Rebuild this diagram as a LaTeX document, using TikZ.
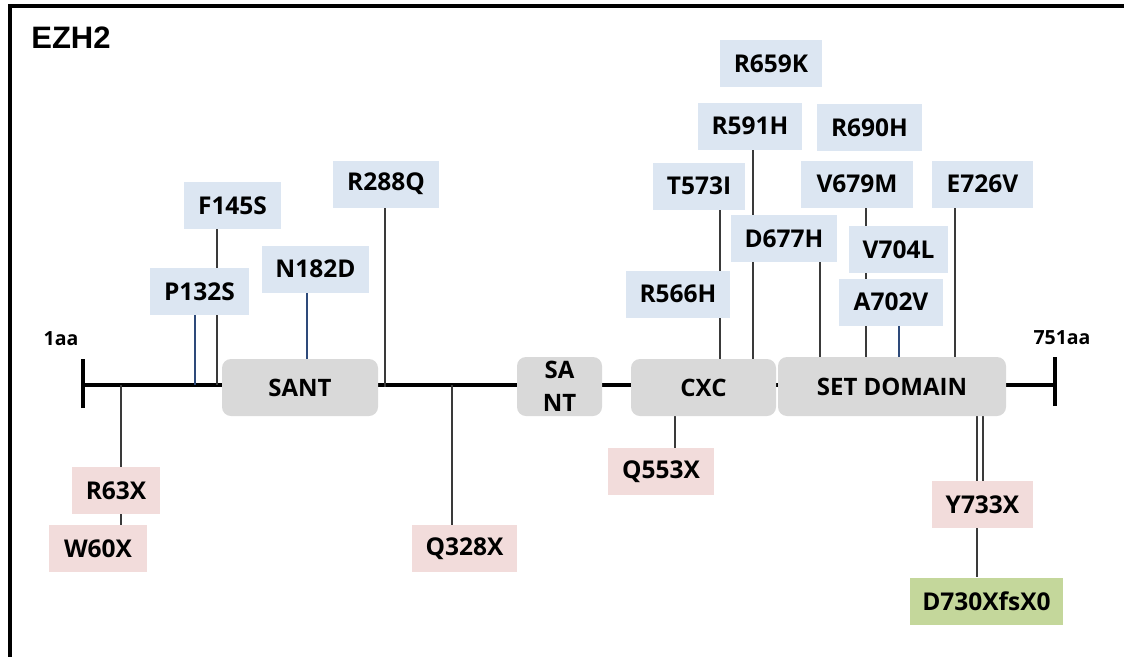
\documentclass[tikz,border=0pt]{standalone}
\usepackage{fontspec}
\setmainfont{Open Sans}
\newfontfamily\titlefont{Liberation Sans}
\pgfdeclarelayer{bg}
\pgfsetlayers{bg,main}
\definecolor{mutblue}{HTML}{DCE6F2}
\definecolor{mutpink}{HTML}{F2DCDB}
\definecolor{mutgreen}{HTML}{C4D79B}
\definecolor{domgray}{HTML}{D9D9D9}
\definecolor{stemgray}{HTML}{3A3A3A}
\definecolor{stemblue}{HTML}{2E4A7A}
\tikzset{
  mut/.style={fill=mutblue, inner sep=0pt, minimum height=47pt, font=\fontsize{24.5}{28}\selectfont\bfseries},
  nonsense/.style={mut, fill=mutpink},
  frameshift/.style={mut, fill=mutgreen},
  dombox/.style={fill=domgray, rounded corners=9pt, inner sep=0pt, minimum height=57pt, align=center, font=\fontsize{24}{33}\selectfont\bfseries},
  stem/.style={draw=stemgray, line width=1.1pt},
  bluestem/.style={draw=stemblue, line width=1.1pt},
  backbone/.style={draw=black, line width=4pt},
  endlabel/.style={inner sep=0pt, font=\fontsize{19.5}{22}\selectfont\bfseries},
}
\begin{document}
\begin{tikzpicture}[x=1pt,y=-1pt]
\useasboundingbox (0,0) rectangle (1124,656);
% frame
\draw[line width=3.5pt] (10,660) -- (10,6) -- (1130,6);
\node[inner sep=0pt, font=\titlefont\fontsize{31}{34}\selectfont\bfseries] (title) at (71,38) {EZH2};
\node[endlabel] (start) at (61,339) {1aa};
\node[endlabel] (end) at (1062,338) {751aa};

% backbone coordinates
\coordinate (L) at (83,385);
\coordinate (R) at (1055,385);
\foreach \x in {121,195,217,307,385,452,675,720,753,820,866,899,955,977,983}
  \coordinate (b\x) at (\x,385);

% domains
\node[dombox, minimum width=156pt] (SANT) at (300,387.5) {SANT};
\node[dombox, minimum width=85pt, minimum height=59pt] (SANT2) at (559.5,386.5) {SA\\NT};
\node[dombox, minimum width=145pt] (CXC) at (703.5,387.5) {CXC};
\node[dombox, minimum width=228pt, minimum height=59pt] (SETD) at (892,386.5) {SET DOMAIN};

% missense mutations
\node[mut, minimum width=97pt] (F145S) at (232.5,205.5) {F145S};
\node[mut, minimum width=99pt] (P132S) at (199.5,291.5) {P132S};
\node[mut, minimum width=107pt] (N182D) at (315.5,269) {N182D};
\node[mut, minimum width=106pt] (R288Q) at (386,184) {R288Q};
\node[mut, minimum width=102pt] (R659K) at (771,63.5) {R659K};
\node[mut, minimum width=104pt] (R591H) at (750,126) {R591H};
\node[mut, minimum width=105pt] (R690H) at (869.5,127.5) {R690H};
\node[mut, minimum width=92pt] (T573I) at (699,186) {T573I};
\node[mut, minimum width=112pt] (V679M) at (857,184) {V679M};
\node[mut, minimum width=101pt] (E726V) at (982.5,184) {E726V};
\node[mut, minimum width=106pt] (D677H) at (784,238.5) {D677H};
\node[mut, minimum width=99pt] (V704L) at (898.5,249.5) {V704L};
\node[mut, minimum width=104pt] (R566H) at (678,294) {R566H};
\node[mut, minimum width=104pt] (A702V) at (891,302) {A702V};

% truncating mutations
\node[nonsense, minimum width=88pt] (R63X) at (116,490.5) {R63X};
\node[nonsense, minimum width=98pt] (W60X) at (98,548.5) {W60X};
\node[nonsense, minimum width=105pt] (Q328X) at (464.5,548.5) {Q328X};
\node[nonsense, minimum width=106pt] (Q553X) at (661,471.5) {Q553X};
\node[nonsense, minimum width=101pt] (Y733X) at (982.5,504.5) {Y733X};
\node[frameshift, minimum width=153pt] (D730X) at (986.5,601) {D730XfsX0};

\begin{pgfonlayer}{bg}
  \draw[backbone] (L) -- (R);
  \draw[backbone] ([yshift=-23pt]L) -- ([yshift=26pt]L);
  \draw[backbone] ([yshift=-21pt]R) -- ([yshift=28pt]R);
  % stems above
  \draw[stem] (F145S.south -| b217) -- (b217);
  \draw[bluestem] (P132S.south -| b195) -- (b195);
  \draw[bluestem] (N182D.south -| b307) -- (SANT.north -| b307);
  \draw[stem] (R288Q.south -| b385) -- ([yshift=-2pt]b385);
  \draw[stem] (T573I.south -| b720) -- (CXC.north -| b720);
  \draw[stem] (R591H.south -| b753) -- (CXC.north -| b753);
  \draw[stem] (D677H.south -| b820) -- (SETD.north -| b820);
  \draw[stem] (V679M.south -| b866) -- (SETD.north -| b866);
  \draw[bluestem] (A702V.south -| b899) -- (SETD.north -| b899);
  \draw[stem] (E726V.south -| b955) -- (SETD.north -| b955);
  % stems below
  \draw[stem] (b121) -- (W60X.north -| b121);
  \draw[stem] (b452) -- (Q328X.north -| b452);
  \draw[stem] (CXC.south -| b675) -- (Q553X.north -| b675);
  \draw[stem] (SETD.south -| b983) -- (Y733X.north -| b983);
  \draw[stem] (SETD.south -| b977) -- (D730X.north -| b977);
\end{pgfonlayer}
\end{tikzpicture}
\end{document}
